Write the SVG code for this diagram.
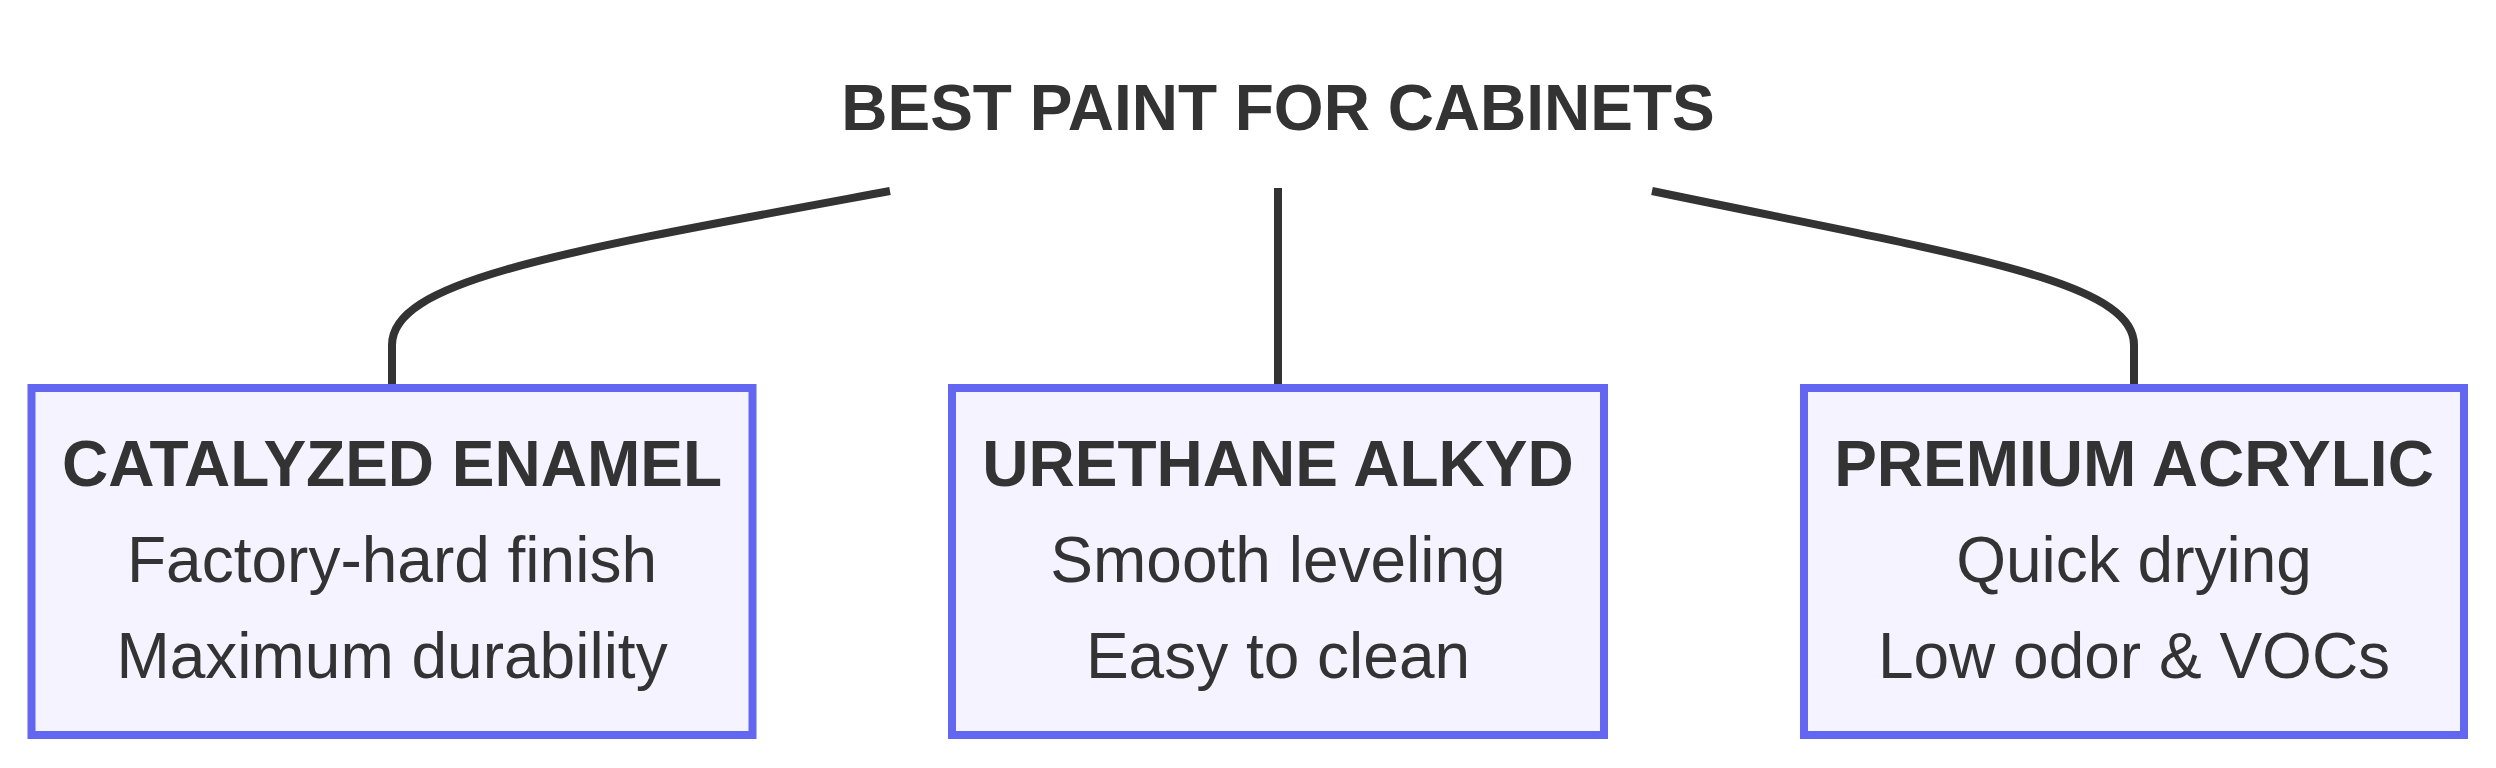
<svg xmlns="http://www.w3.org/2000/svg" width="2496" height="768" viewBox="0 0 2496 768">
  <style>
    .box { fill: #f4f3ff; stroke: #6366f1; stroke-width: 8; }
    .edge { fill: none; stroke: #333333; stroke-width: 8; }
    text { font-family: "Liberation Sans", Arial, sans-serif; font-size: 64px; fill: #333333; text-anchor: middle; }
    .b { font-weight: bold; }
  </style>
  <rect width="2496" height="768" fill="#ffffff"/>
  <g id="edges">
    <path class="edge" d="M 890 191 C 560 252, 392 280, 392 345 L 392 384"/>
    <path class="edge" d="M 1278 188 L 1278 384"/>
    <path class="edge" d="M 1652 191 C 1960 255, 2134 280, 2134 345 L 2134 384"/>
  </g>
  <g id="root">
    <text class="b" x="1278" y="130">BEST PAINT FOR CABINETS</text>
  </g>
  <g id="catalyzed">
    <rect class="box" x="31.5" y="388" width="721" height="347"/>
    <text class="b" x="392" y="486">CATALYZED ENAMEL</text>
    <text x="392" y="582">Factory-hard finish</text>
    <text x="392" y="678">Maximum durability</text>
  </g>
  <g id="urethane">
    <rect class="box" x="952" y="388" width="652" height="347"/>
    <text class="b" x="1278" y="486">URETHANE ALKYD</text>
    <text x="1278" y="582">Smooth leveling</text>
    <text x="1278" y="678">Easy to clean</text>
  </g>
  <g id="acrylic">
    <rect class="box" x="1804" y="388" width="660" height="347"/>
    <text class="b" x="2134" y="486">PREMIUM ACRYLIC</text>
    <text x="2134" y="582">Quick drying</text>
    <text x="2134" y="678">Low odor &amp; VOCs</text>
  </g>
</svg>
